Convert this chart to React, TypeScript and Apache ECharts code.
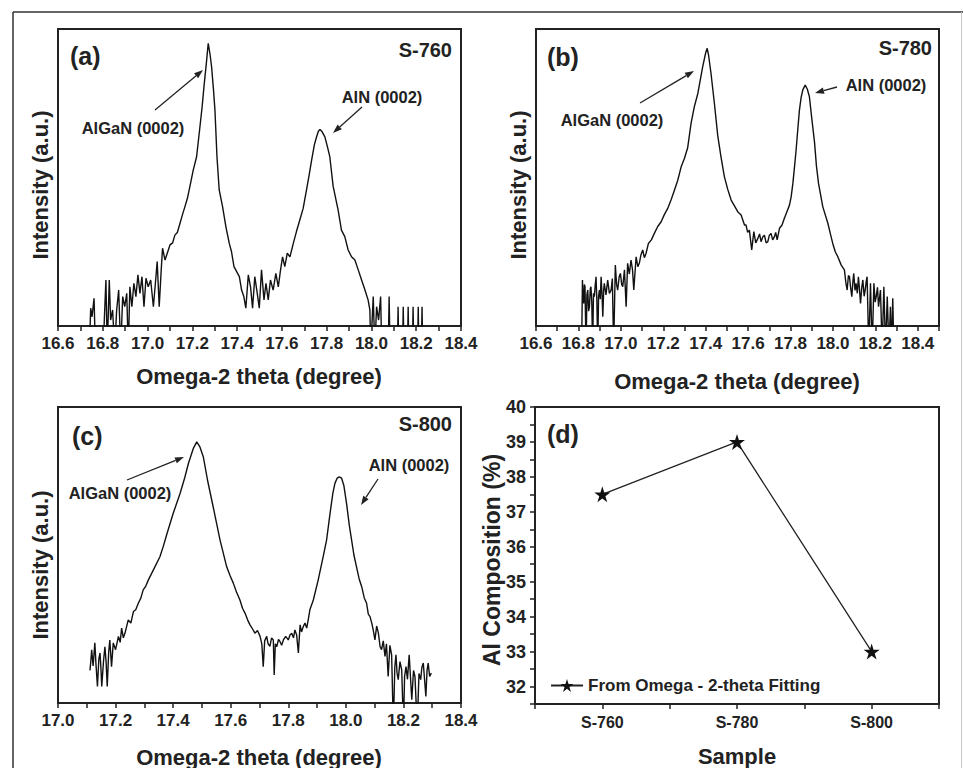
import React, { useEffect, useRef } from "react";
import * as echarts from "echarts";

// ---------- data ----------
// Intensity in arbitrary units: 0 = bottom of plot frame, 100 = top of frame.
// Values below 0 mark where the trace drops out of the (log) axis.
const s760: [number, number][] = [
  [16.740, -8], [16.746, 6.0], [16.752, 3.1], [16.761, 9.3], [16.767, -8],
  [16.802, -8], [16.808, 4.3], [16.814, 15.5], [16.820, -8], [16.829, 15.5], [16.835, 2.0], [16.844, 5.4],
  [16.853, -8], [16.862, 5.4], [16.871, 12.1], [16.880, -8], [16.889, 9.9], [16.898, 6.5], [16.907, 11.0],
  [16.914, -8], [16.921, 13.2], [16.930, 6.5], [16.939, 14.4], [16.948, 9.9], [16.957, 17.2], [16.966, 11.0],
  [16.975, 16.6], [16.984, 6.5], [16.993, 16.1], [17.003, 13.2], [17.014, 15.5], [17.026, 6.5], [17.035, 14.4],
  [17.043, 21.7], [17.052, 6.5], [17.061, 18.9], [17.067, 26.2], [17.078, 22.2], [17.088, 24.5], [17.100, 27.3],
  [17.112, 28.0], [17.122, 30.6], [17.133, 31.5], [17.145, 34.6], [17.156, 37.5], [17.167, 40.2], [17.178, 43.0],
  [17.189, 46.9], [17.204, 52.5], [17.219, 57.0], [17.234, 67.1], [17.244, 74.0], [17.252, 80.6], [17.262, 88.0],
  [17.271, 95.2], [17.279, 91.5], [17.286, 87.3], [17.294, 80.0], [17.301, 72.7], [17.310, 57.0], [17.320, 45.8],
  [17.335, 40.2], [17.350, 33.4], [17.365, 27.8], [17.375, 25.0], [17.386, 20.0], [17.398, 18.3], [17.410, 16.6],
  [17.420, 12.1], [17.430, 9.9], [17.439, 6.0], [17.450, 17.2], [17.460, 13.2], [17.469, 6.0], [17.479, 16.6],
  [17.490, 11.0], [17.499, 6.0], [17.509, 18.9], [17.520, 8.8], [17.529, 14.4], [17.539, 8.8], [17.549, 15.5],
  [17.561, 12.1], [17.573, 17.7], [17.584, 13.2], [17.594, 18.9], [17.603, 23.3], [17.613, 20.0], [17.624, 24.5],
  [17.636, 23.3], [17.651, 27.8], [17.665, 31.8], [17.680, 35.7], [17.695, 39.6], [17.710, 45.8], [17.722, 51.0],
  [17.733, 55.9], [17.745, 61.0], [17.755, 63.7], [17.763, 65.6], [17.770, 66.2], [17.778, 65.6], [17.792, 63.7],
  [17.803, 60.5], [17.814, 57.0], [17.829, 47.0], [17.851, 39.1], [17.866, 32.3], [17.881, 30.1], [17.896, 25.6],
  [17.911, 23.3], [17.926, 22.2], [17.941, 18.9], [17.956, 15.5], [17.971, 12.1], [17.985, 8.8], [17.993, 5.4],
  [17.997, -8], [18.008, 9.9], [18.015, -8], [18.023, 6.5], [18.032, 2.0], [18.041, 9.9], [18.046, -8],
  [18.075, -8], [18.079, 9.9], [18.083, -8], [18.116, -8], [18.119, 6.5], [18.122, -8], [18.139, -8],
  [18.142, 6.5], [18.145, -8], [18.161, -8], [18.164, 6.5], [18.167, -8], [18.183, -8], [18.186, 6.5],
  [18.189, -8], [18.206, -8], [18.209, 6.5], [18.212, -8], [18.223, -8], [18.226, 6.5], [18.229, -8],
];

const s780: [number, number][] = [
  [16.815, -8], [16.819, 15.5], [16.822, 9.0], [16.825, 7.6], [16.828, 14.0], [16.831, 13.2], [16.836, -8],
  [16.840, 10.5], [16.844, 12.1], [16.848, 5.0], [16.852, 6.5], [16.856, 12.5], [16.859, 13.2], [16.863, 8.0],
  [16.867, -8], [16.871, 11.0], [16.875, 9.9], [16.879, 13.5], [16.883, 16.6], [16.887, 8.5], [16.891, -8],
  [16.895, 10.0], [16.899, 12.1], [16.903, 9.0], [16.907, 16.6], [16.911, 11.0], [16.915, 3.1], [16.919, 12.0],
  [16.922, 14.4], [16.930, 10.5], [16.938, 15.5], [16.946, 11.0], [16.954, 12.1], [16.960, 16.0], [16.966, -8],
  [16.974, 20.5], [16.980, 14.0], [16.985, 12.1], [16.992, 16.5], [16.998, 17.7], [17.004, 14.0], [17.009, 13.2],
  [17.017, 18.9], [17.025, 6.5], [17.032, 21.1], [17.040, 17.5], [17.048, 22.2], [17.055, 19.0], [17.061, 12.1],
  [17.072, 23.3], [17.080, 20.0], [17.087, 21.1], [17.095, 24.0], [17.103, 25.6], [17.111, 23.0], [17.119, 24.5],
  [17.130, 27.8], [17.144, 29.0], [17.158, 31.2], [17.174, 33.5], [17.190, 35.1], [17.205, 37.5], [17.221, 39.6],
  [17.237, 42.5], [17.253, 45.8], [17.268, 49.0], [17.284, 53.5], [17.300, 56.5], [17.315, 60.0], [17.331, 68.2],
  [17.347, 74.0], [17.363, 78.3], [17.375, 83.0], [17.386, 87.3], [17.400, 92.0], [17.407, 93.5], [17.414, 91.0],
  [17.425, 85.1], [17.441, 75.0], [17.457, 64.0], [17.472, 57.0], [17.488, 50.3], [17.504, 46.0], [17.520, 42.4],
  [17.535, 40.5], [17.551, 38.5], [17.567, 37.4], [17.583, 34.0], [17.590, 34.0], [17.598, 31.5], [17.606, 32.3],
  [17.617, 25.6], [17.627, 31.8], [17.636, 28.0], [17.646, 29.5], [17.654, 31.0], [17.661, 28.4], [17.669, 30.0],
  [17.677, 30.6], [17.685, 28.0], [17.693, 28.4], [17.700, 30.5], [17.708, 31.2], [17.716, 29.0], [17.724, 30.1],
  [17.730, 31.5], [17.737, 29.0], [17.748, 32.9], [17.760, 34.0], [17.771, 36.3], [17.783, 38.5], [17.795, 40.7],
  [17.803, 43.5], [17.811, 48.0], [17.818, 53.0], [17.826, 59.0], [17.834, 66.0], [17.842, 72.7], [17.850, 77.0],
  [17.858, 79.5], [17.869, 81.1], [17.879, 79.8], [17.889, 77.2], [17.900, 70.0], [17.913, 62.0], [17.922, 54.0],
  [17.932, 48.0], [17.952, 40.2], [17.976, 34.6], [17.988, 31.0], [17.999, 27.8], [18.011, 25.0], [18.023, 23.3],
  [18.039, 20.5], [18.054, 18.9], [18.061, 14.5], [18.067, 12.1], [18.073, 17.0], [18.078, 16.6], [18.084, 12.5],
  [18.089, 9.9], [18.094, 15.0], [18.098, 17.7], [18.104, 12.0], [18.109, 14.4], [18.115, 11.0], [18.120, 16.6],
  [18.125, 12.5], [18.130, 7.6], [18.136, 13.0], [18.141, 15.5], [18.147, 10.0], [18.152, 12.1], [18.157, 15.0],
  [18.161, 16.6], [18.169, -8], [18.177, 14.4], [18.185, -8], [18.193, 14.4], [18.199, 8.0], [18.204, 9.9],
  [18.210, 13.0], [18.215, 6.5], [18.224, 12.1], [18.232, -8], [18.240, 13.2], [18.248, -8], [18.256, 9.9],
  [18.264, -8], [18.271, 6.5], [18.276, -8], [18.282, 9.3], [18.287, -8],
];

const s800: [number, number][] = [
  [17.111, 11.0], [17.114, 14.0], [17.117, 18.0], [17.122, 12.5], [17.128, 20.3], [17.132, 13.0], [17.137, 5.6],
  [17.142, 15.0], [17.146, 16.9], [17.149, 12.0], [17.152, 5.6], [17.158, 14.0], [17.163, 19.0], [17.167, 14.0],
  [17.171, 5.6], [17.176, 17.0], [17.180, 21.3], [17.186, 12.3], [17.192, 20.3], [17.200, 18.0], [17.210, 22.5],
  [17.216, 20.5], [17.221, 25.3], [17.227, 22.0], [17.233, 23.7], [17.244, 28.1], [17.253, 27.0], [17.262, 30.9],
  [17.270, 31.5], [17.279, 33.7], [17.288, 35.5], [17.296, 38.2], [17.305, 39.5], [17.314, 41.6], [17.331, 44.9],
  [17.354, 49.4], [17.366, 53.0], [17.378, 57.0], [17.400, 64.0], [17.424, 70.8], [17.440, 76.0], [17.453, 80.9],
  [17.470, 86.0], [17.482, 88.2], [17.493, 86.5], [17.505, 83.1], [17.520, 75.0], [17.539, 66.3], [17.563, 55.0],
  [17.586, 46.0], [17.598, 43.0], [17.609, 40.5], [17.620, 37.5], [17.632, 34.8], [17.641, 32.0], [17.650, 30.3],
  [17.659, 28.0], [17.667, 26.4], [17.676, 25.0], [17.684, 23.6], [17.693, 24.5], [17.702, 22.5], [17.708, 20.0],
  [17.713, 12.3], [17.718, 21.0], [17.725, 22.5], [17.730, 20.0], [17.736, 19.1], [17.742, 22.0], [17.748, 21.3],
  [17.751, 9.5], [17.755, 20.0], [17.760, 19.0], [17.766, 21.5], [17.771, 20.8], [17.777, 19.5], [17.783, 21.3],
  [17.791, 22.5], [17.800, 21.3], [17.806, 23.0], [17.812, 23.6], [17.818, 22.0], [17.823, 24.7], [17.829, 23.0],
  [17.835, 16.9], [17.841, 26.4], [17.846, 24.0], [17.852, 25.8], [17.858, 27.0], [17.864, 25.3], [17.870, 28.5],
  [17.875, 31.5], [17.887, 34.8], [17.904, 41.6], [17.921, 49.4], [17.933, 55.0], [17.945, 64.0], [17.955, 71.0],
  [17.962, 74.2], [17.970, 76.0], [17.977, 76.4], [17.985, 76.0], [17.993, 73.5], [18.003, 67.0], [18.012, 60.0],
  [18.020, 55.0], [18.028, 50.0], [18.037, 46.0], [18.046, 42.0], [18.055, 39.3], [18.064, 35.5], [18.072, 33.7],
  [18.078, 30.0], [18.084, 29.2], [18.090, 27.0], [18.095, 24.7], [18.101, 21.3], [18.107, 26.0], [18.113, 23.6],
  [18.119, 19.0], [18.124, 18.0], [18.130, 21.0], [18.136, 15.7], [18.141, 20.0], [18.147, 9.0], [18.153, 19.5],
  [18.159, 16.3], [18.165, -8], [18.170, 12.0], [18.174, 16.3], [18.178, 10.0], [18.182, 7.9], [18.188, 14.0],
  [18.194, 11.2], [18.200, -8], [18.204, 9.0], [18.209, 12.3], [18.214, 8.0], [18.220, 16.3], [18.229, 1.1],
  [18.235, 11.0], [18.240, 9.0], [18.248, -8], [18.254, 10.0], [18.260, 7.9], [18.264, 12.0], [18.269, 13.5],
  [18.278, 2.2], [18.282, 11.0], [18.286, 13.5], [18.291, 9.0], [18.297, 10.1],
];

const samples = ["S-760", "S-780", "S-800"];
const alComposition = [37.5, 39.0, 33.0];
const legendName = "From Omega - 2-theta Fitting";

// ---------- styling helpers ----------
const INK = "#222";
const FONT = "'Liberation Sans', Arial, Helvetica, sans-serif";
const STAR =
  "path://M50,0 L61.2,34.5 L97.6,34.5 L68.2,55.9 L79.4,90.5 L50,69.1 L20.6,90.5 L31.8,55.9 L2.4,34.5 L38.8,34.5 Z";

const tenthLabel = (v: number) => {
  const t = Math.round(v * 10);
  return t % 2 === 0 ? (t / 10).toFixed(1) : "";
};

function text(
  t: string,
  x: number,
  y: number,
  size: number,
  align: string = "center",
  rotation = 0
): any {
  return {
    type: "text",
    x,
    y,
    rotation,
    silent: true,
    style: {
      text: t,
      fill: INK,
      fontSize: size,
      fontWeight: "bold",
      fontFamily: FONT,
      textAlign: align,
      textVerticalAlign: "middle",
    },
  };
}

function arrow(x1: number, y1: number, x2: number, y2: number): any[] {
  const ang = Math.atan2(y2 - y1, x2 - x1);
  const L = 9;
  const W = 3.2;
  const bx = x2 - L * Math.cos(ang);
  const by = y2 - L * Math.sin(ang);
  const px = -Math.sin(ang) * W;
  const py = Math.cos(ang) * W;
  return [
    {
      type: "line",
      silent: true,
      shape: { x1, y1, x2: bx, y2: by },
      style: { stroke: INK, lineWidth: 1.3 },
    },
    {
      type: "polygon",
      silent: true,
      shape: {
        points: [
          [x2, y2],
          [bx + px, by + py],
          [bx - px, by - py],
        ],
      },
      style: { fill: INK },
    },
  ];
}

function thetaAxis(gridIndex: number, min: number, max: number): any {
  return {
    type: "value",
    gridIndex,
    min,
    max,
    interval: 0.1,
    axisLine: { show: false },
    axisTick: { show: true, inside: false, length: 5, lineStyle: { color: INK, width: 1.5 } },
    splitLine: { show: false },
    axisLabel: {
      formatter: tenthLabel,
      color: INK,
      fontSize: 17,
      fontWeight: "bold",
      fontFamily: FONT,
      margin: 9,
      showMaxLabel: true,
      showMinLabel: true,
    },
  };
}

function intensityAxis(gridIndex: number): any {
  return {
    type: "value",
    gridIndex,
    min: 0,
    max: 100,
    axisLine: { show: false },
    axisTick: { show: false },
    axisLabel: { show: false },
    splitLine: { show: false },
  };
}

function traceSeries(idx: number, data: [number, number][]): any {
  return {
    type: "line",
    xAxisIndex: idx,
    yAxisIndex: idx,
    data,
    symbol: "none",
    showSymbol: false,
    clip: true,
    silent: true,
    lineStyle: { color: "#111", width: 1.4 },
  };
}

const frame = { show: true, borderColor: INK, borderWidth: 2, backgroundColor: "transparent" };

export default function App() {
  const ref = useRef<HTMLDivElement>(null);

  useEffect(() => {
    if (!ref.current) return;
    const chart = echarts.init(ref.current, undefined, { renderer: "svg" });

    const graphics: any[] = [
      // outer figure border
      { type: "line", silent: true, shape: { x1: 13, y1: 12, x2: 13, y2: 768 }, style: { stroke: "#333", lineWidth: 1.5 } },
      { type: "line", silent: true, shape: { x1: 13, y1: 12, x2: 963, y2: 12 }, style: { stroke: "#333", lineWidth: 1.5 } },
      { type: "line", silent: true, shape: { x1: 961.5, y1: 12, x2: 961.5, y2: 768 }, style: { stroke: "#c8c8c8", lineWidth: 1 } },

      // panel (a)
      text("(a)", 70, 56, 25, "left"),
      text("S-760", 452, 50, 20, "right"),
      text("AlGaN (0002)", 133, 128, 16.5),
      text("AlN (0002)", 382, 97, 16.5),
      ...arrow(155, 110, 203, 70),
      ...arrow(362, 107, 333, 133),
      text("Intensity (a.u.)", 40, 185, 22, "center", Math.PI / 2),
      text("Omega-2 theta (degree)", 259, 376, 22),

      // panel (b)
      text("(b)", 547, 57, 25, "left"),
      text("S-780", 932, 48, 20, "right"),
      text("AlGaN (0002)", 612, 120, 16.5),
      text("AlN (0002)", 886, 85, 16.5),
      ...arrow(640, 103, 694, 71),
      ...arrow(837, 87, 815, 93),
      text("Intensity (a.u.)", 518, 185, 22, "center", Math.PI / 2),
      text("Omega-2 theta (degree)", 737, 381, 22),

      // panel (c)
      text("(c)", 72, 436, 25, "left"),
      text("S-800", 452, 424, 20, "right"),
      text("AlGaN (0002)", 120, 493, 16.5),
      text("AlN (0002)", 409, 465, 16.5),
      ...arrow(127, 480, 184, 457),
      ...arrow(378, 479, 361, 505),
      text("Intensity (a.u.)", 40, 565, 22, "center", Math.PI / 2),
      text("Omega-2 theta (degree)", 259, 757, 22),

      // panel (d)
      text("(d)", 547, 434, 25, "left"),
      text("Al Composition (%)", 492, 560, 23, "center", Math.PI / 2),
      text("Sample", 737, 756, 22),
    ];

    chart.setOption({
      animation: false,
      backgroundColor: "#fff",
      grid: [
        { left: 58, top: 29, width: 403, height: 297, ...frame },
        { left: 536, top: 29, width: 403, height: 297, ...frame },
        { left: 58, top: 407, width: 403, height: 296, ...frame },
        { left: 535, top: 407, width: 404, height: 297, ...frame },
      ],
      xAxis: [
        thetaAxis(0, 16.6, 18.4),
        thetaAxis(1, 16.6, 18.5),
        thetaAxis(2, 17.0, 18.4),
        {
          type: "value",
          gridIndex: 3,
          min: 0.5,
          max: 3.5,
          interval: 0.5,
          axisLine: { show: false },
          axisTick: { show: true, length: 5, lineStyle: { color: INK, width: 1.5 } },
          splitLine: { show: false },
          axisLabel: {
            formatter: (v: number) => {
              const r = Math.round(v * 2);
              return r % 2 === 0 ? samples[r / 2 - 1] ?? "" : "";
            },
            color: INK,
            fontSize: 16,
            fontWeight: "bold",
            fontFamily: FONT,
            margin: 10,
          },
        },
      ],
      yAxis: [
        intensityAxis(0),
        intensityAxis(1),
        intensityAxis(2),
        {
          type: "value",
          gridIndex: 3,
          min: 31.5,
          max: 40,
          interval: 0.5,
          axisLine: { show: false },
          axisTick: { show: true, length: 5, lineStyle: { color: INK, width: 1.5 } },
          splitLine: { show: false },
          axisLabel: {
            formatter: (v: number) => {
              const r = Math.round(v * 2);
              return r % 2 === 0 ? String(r / 2) : "";
            },
            color: INK,
            fontSize: 18,
            fontWeight: "bold",
            fontFamily: FONT,
            margin: 9,
          },
        },
      ],
      legend: {
        data: [legendName],
        left: 545,
        top: 672,
        itemWidth: 32,
        itemHeight: 16,
        textStyle: { color: INK, fontSize: 17, fontWeight: "bold", fontFamily: FONT },
        selectedMode: false,
      },
      series: [
        traceSeries(0, s760),
        traceSeries(1, s780),
        traceSeries(2, s800),
        {
          name: legendName,
          type: "line",
          xAxisIndex: 3,
          yAxisIndex: 3,
          data: samples.map((_, i) => [i + 1, alComposition[i]]),
          symbol: STAR,
          symbolSize: 16,
          itemStyle: { color: "#111" },
          lineStyle: { color: INK, width: 1.3 },
        },
      ],
      graphic: graphics,
    });

    return () => chart.dispose();
  }, []);

  return (
    <div
      ref={ref}
      style={{ position: "absolute", left: 0, top: 0, width: 963, height: 768, background: "#fff" }}
    />
  );
}
